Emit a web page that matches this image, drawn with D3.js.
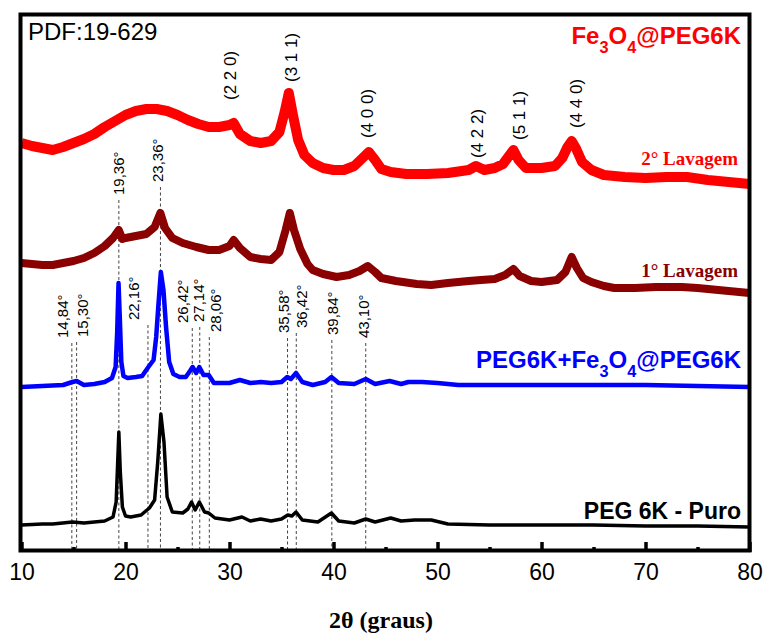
<!DOCTYPE html>
<html><head><meta charset="utf-8">
<script src="https://cdn.jsdelivr.net/npm/d3@7/dist/d3.min.js"></script>
<style>body{margin:0;background:#fff}</style>
</head><body><svg id="c" width="766" height="637"></svg>
<script>
// ---- data (2θ in degrees, intensity in arbitrary stacked units) ----
const xTicks = [10,20,30,40,50,60,70,80];
const xMinorTicks = [15,25,35,45,55,65,75];

const lavagem2 = [[10,409],[11,406],[12,404],[13,402],[14,405],[15,409],[16,413],[17,418],[18,425],[19,431],[20,437],[21,441],[22,443],[23,443],[24,441],[25,437],[26,432],[27,428],[28,425],[29,425],[30,427],[30.4,429],[31,418],[32,411],[33,409],[34,411],[34.8,420],[35.3,440],[35.7,459],[36.1,437],[36.6,412],[37.2,397],[38,389],[39,384],[40,382],[41,382],[42,386],[42.8,394],[43.4,400],[44,392],[44.6,383],[45.5,380],[47,378],[49,378],[51,379],[53,382],[53.7,386],[54.5,382],[55.5,384],[56.3,388],[56.8,395],[57.3,402],[57.8,392],[58.5,384],[60,384],[61.3,386],[62,394],[62.5,405],[62.9,411],[63.3,404],[63.9,390],[64.8,382],[66,377],[68,375],[70,374],[72,375],[74,375],[76,372],[78,370],[80,368]];

const lavagem1 = [[10,289],[11,288],[12,287],[13,287],[14,289],[15,291],[16,294],[17,299],[18,306],[18.8,314],[19.35,322],[19.7,313],[20,314],[21,316],[22,318],[22.8,325],[23.35,339],[23.8,324],[24.5,314],[25.5,309],[26.8,305],[28,302],[29,302],[30,306],[30.4,312],[31,304],[32,295],[33,293],[34,292],[34.8,300],[35.4,322],[35.8,339],[36.2,322],[36.8,303],[37.5,288],[38,282],[39,278],[40.3,275],[41.5,277],[42.5,281],[43.3,286],[44,280],[44.6,274],[46,271],[48,268],[49.4,267],[51,269],[53,271],[54.2,272],[55.5,273],[56.5,277],[57.3,283],[57.9,276],[59,271],[60,270],[61.5,272],[62.3,280],[62.9,295],[63.4,284],[64,274],[64.8,270],[66,266],[67,264],[69,264],[71,265],[73.5,265],[75,264],[77,262],[79,260],[80,259]];

const pegFe = [[10,165],[12,166],[14,167],[14.9,170],[15.3,171],[16,167],[17,168],[18,170],[18.7,174],[19.05,185],[19.2,220],[19.33,269],[19.45,235],[19.6,190],[19.8,176],[20.2,174],[21,175],[21.6,176],[22.2,185],[22.7,192],[22.95,215],[23.15,245],[23.4,280],[23.65,262],[23.9,225],[24.2,190],[24.6,178],[25.2,175],[25.8,175],[26.2,181],[26.45,185],[26.8,179],[27.1,185],[27.5,177],[28.0,177],[28.5,169],[29.3,169],[30,169],[31,172],[32,169],[33,170],[34,169],[35.0,170],[35.55,175],[35.9,173],[36.4,179],[37,170],[38,167],[39.2,170],[39.8,175],[40.5,169],[42,168],[43.1,173],[44,168],[45.4,171],[46.5,168],[47.2,170],[48.5,170],[50,169],[52,167],[55,167],[60,167],[65,167],[70,167],[75,166],[80,165]];

const pegPuro = [[10,27],[12,28],[13,28],[14.9,30],[16,29],[18,31],[18.8,35],[19.1,50],[19.25,90],[19.36,120],[19.5,80],[19.7,45],[20,36],[20.5,35],[21.5,37],[22.3,44],[22.8,52],[23.1,90],[23.4,138],[23.7,110],[24.0,55],[24.5,40],[25.5,39],[26.0,43],[26.35,50],[26.7,42],[27.1,50],[27.6,40],[28.0,39],[28.6,34],[30,32],[31.2,35],[32,31],[33,33],[34,31],[35,33],[35.6,37],[36.0,36],[36.4,40],[37,32],[38.5,30],[39.8,39],[40.5,31],[42,29],[43.1,33],[44,30],[45.5,34],[46.5,31],[47.8,32],[49.4,32],[51,28],[55,27],[60,27],[65,27],[70,26],[75,26],[80,25]];

const peakPos   = [14.84,15.30,19.36,22.16,23.36,26.42,27.14,28.06,35.58,36.42,39.84,43.10];
const peakText  = ["14,84°","15,30°","19,36°","22,16°","23,36°","26,42°","27,14°","28,06°","35,58°","36,42°","39,84°","43,10°"];
const peakLevel = [214,215,357,232,370,229,230,220,219,224,217,214];

const millerText  = ["(2 2 0)","(3 1 1)","(4 0 0)","(4 2 2)","(5 1 1)","(4 4 0)"];
const millerPos   = [30.1,35.9,43.2,53.8,57.8,63.3];
const millerLevel = [452,470,414,394,412,424];

// ---- layout ----
const svg = d3.select("#c");
const x = d3.scaleLinear().domain([10,80]).range([21.5,749.5]);
const y = d3.scaleLinear().domain([0,538]).range([552,14]);

svg.append("rect").attr("width",766).attr("height",637).attr("fill","#fff");
svg.append("defs").append("clipPath").attr("id","clip")
  .append("rect").attr("x",21.5).attr("y",14).attr("width",728).attr("height",538);

// dashed drop lines
const labelShift = [-9,6,0,-14,-3,-10,-1,6,-4,5,1,-2];
const g = svg.append("g");
peakPos.forEach((p,i)=>{
  g.append("line").attr("x1",x(p)).attr("x2",x(p))
    .attr("y1",y(peakLevel[i])+5).attr("y2",552)
    .attr("stroke","#444").attr("stroke-width",1).attr("stroke-dasharray","3,2.5");
  const tx = x(p)+labelShift[i], ty = y(peakLevel[i]);
  g.append("text").attr("transform",`translate(${tx},${ty}) rotate(-90)`)
    .attr("dy","0.35em").attr("font-family","Liberation Sans, Arial, sans-serif")
    .attr("font-size",15).attr("fill","#000").text(peakText[i]);
});

// traces
const line = d3.line().x(d=>x(d[0])).y(d=>y(d[1]));
const traces = [
  {d:lavagem2, c:"#ff0000", w:10},
  {d:lavagem1, c:"#8b0000", w:8},
  {d:pegFe, c:"#0000ff", w:4.5},
  {d:pegPuro, c:"#000000", w:3.5}
];
const tg = svg.append("g").attr("clip-path","url(#clip)");
traces.forEach(t=>{
  tg.append("path").datum(t.d).attr("d",line).attr("fill","none")
    .attr("stroke",t.c).attr("stroke-width",t.w).attr("stroke-linejoin","round");
});

// Miller indices
millerText.forEach((t,i)=>{
  svg.append("text").attr("transform",`translate(${x(millerPos[i])},${y(millerLevel[i])}) rotate(-90)`)
    .attr("dy","0.35em").attr("font-family","Liberation Sans, Arial, sans-serif")
    .attr("font-size",17).attr("fill","#000").text(t);
});

// axis
const ax = svg.append("g").attr("transform","translate(0,552)");
ax.call(d3.axisBottom(x).tickValues(xTicks).tickSize(-10).tickPadding(12).tickFormat(d3.format("d")));
ax.select(".domain").remove();
ax.selectAll(".tick line").attr("stroke","#000").attr("stroke-width",3.5);
ax.selectAll(".tick text").attr("font-family","Liberation Sans, Arial, sans-serif").attr("font-size",23).attr("fill","#000");
const axm = svg.append("g").attr("transform","translate(0,552)");
axm.call(d3.axisBottom(x).tickValues(xMinorTicks).tickSize(-5).tickFormat(""));
axm.select(".domain").remove();
axm.selectAll(".tick line").attr("stroke","#000").attr("stroke-width",3.5);

// frame
svg.append("rect").attr("x",20.5).attr("y",14.5).attr("width",729).attr("height",536)
  .attr("fill","none").attr("stroke","#000").attr("stroke-width",4);

// axis title
svg.append("text").attr("x",381).attr("y",628).attr("text-anchor","middle")
  .attr("font-family","Liberation Serif, Times New Roman, serif").attr("font-weight","bold")
  .attr("font-size",24).attr("fill","#000").text("2θ (graus)");

// texts
svg.append("text").attr("x",28).attr("y",40).attr("font-family","Liberation Sans, Arial, sans-serif")
  .attr("font-size",24).attr("fill","#000").text("PDF:19-629");

function subLabel(xp, yp, parts, color, size){
  const t = svg.append("text").attr("x",xp).attr("y",yp).attr("text-anchor","end")
    .attr("font-family","Liberation Sans, Arial, sans-serif").attr("font-weight","bold")
    .attr("font-size",size).attr("fill",color);
  let shifted = false;
  parts.forEach(p=>{
    const ts = t.append("tspan").text(p.s);
    if (p.sub) { ts.attr("font-size",size*0.68).attr("dy",shifted?0:size*0.38); shifted=true; }
    else { if (shifted) { ts.attr("dy",-size*0.38); shifted=false; } }
  });
}
subLabel(741,44,[{s:"Fe"},{s:"3",sub:true},{s:"O"},{s:"4",sub:true},{s:"@PEG6K"}],"#ff0000",24);
subLabel(741,368,[{s:"PEG6K+Fe"},{s:"3",sub:true},{s:"O"},{s:"4",sub:true},{s:"@PEG6K"}],"#0000ff",24);
svg.append("text").attr("x",741).attr("y",519).attr("text-anchor","end")
  .attr("font-family","Liberation Sans, Arial, sans-serif").attr("font-weight","bold")
  .attr("font-size",23).attr("fill","#000").text("PEG 6K - Puro");

svg.append("text").attr("x",738).attr("y",165).attr("text-anchor","end")
  .attr("font-family","Liberation Serif, Times New Roman, serif").attr("font-weight","bold")
  .attr("font-size",19).attr("fill","#ff0000").text("2° Lavagem");
svg.append("text").attr("x",738).attr("y",277).attr("text-anchor","end")
  .attr("font-family","Liberation Serif, Times New Roman, serif").attr("font-weight","bold")
  .attr("font-size",19).attr("fill","#8b0000").text("1° Lavagem");
</script></body></html>
